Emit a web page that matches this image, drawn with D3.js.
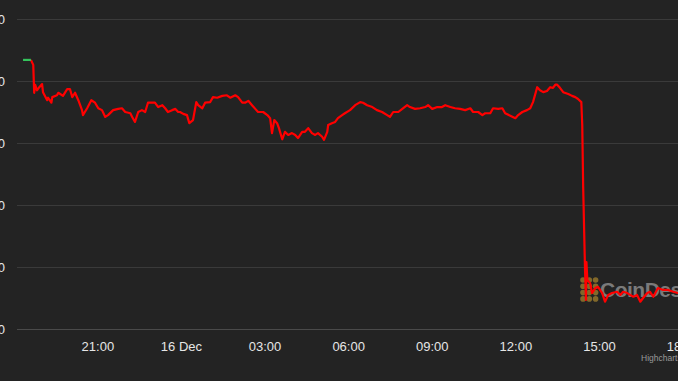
<!DOCTYPE html>
<html>
<head>
<meta charset="utf-8">
<script src="https://cdn.jsdelivr.net/npm/d3@7"></script>
<style>
  html, body { margin: 0; padding: 0; background: #232323; overflow: hidden; }
  svg { display: block; font-family: "Liberation Sans", Helvetica, Arial, sans-serif; }
</style>
</head>
<body>
<svg id="chart" width="678" height="381"></svg>
<script>
// price series (time, price)
const times = [
  "2022-12-15T18:20","2022-12-15T18:37","2022-12-15T18:42","2022-12-15T18:44","2022-12-15T18:46","2022-12-15T18:50",
  "2022-12-15T18:55","2022-12-15T19:01","2022-12-15T19:03","2022-12-15T19:12","2022-12-15T19:14","2022-12-15T19:21",
  "2022-12-15T19:23","2022-12-15T19:33","2022-12-15T19:36","2022-12-15T19:46","2022-12-15T19:55","2022-12-15T20:01",
  "2022-12-15T20:06","2022-12-15T20:12","2022-12-15T20:19","2022-12-15T20:27","2022-12-15T20:29","2022-12-15T20:38",
  "2022-12-15T20:47","2022-12-15T20:55","2022-12-15T21:02","2022-12-15T21:10","2022-12-15T21:17","2022-12-15T21:23",
  "2022-12-15T21:34","2022-12-15T21:45","2022-12-15T21:53","2022-12-15T22:00","2022-12-15T22:11","2022-12-15T22:15",
  "2022-12-15T22:21","2022-12-15T22:28","2022-12-15T22:36","2022-12-15T22:43","2022-12-15T22:49","2022-12-15T22:58",
  "2022-12-15T23:04","2022-12-15T23:11","2022-12-15T23:20","2022-12-15T23:26","2022-12-15T23:32","2022-12-15T23:41",
  "2022-12-15T23:48","2022-12-15T23:54","2022-12-15T23:58","2022-12-16T00:05","2022-12-16T00:13","2022-12-16T00:18",
  "2022-12-16T00:26","2022-12-16T00:33","2022-12-16T00:37","2022-12-16T00:46","2022-12-16T00:52","2022-12-16T01:03",
  "2022-12-16T01:09","2022-12-16T01:18","2022-12-16T01:29","2022-12-16T01:39","2022-12-16T01:46","2022-12-16T01:57",
  "2022-12-16T02:03","2022-12-16T02:12","2022-12-16T02:18","2022-12-16T02:25","2022-12-16T02:33","2022-12-16T02:40",
  "2022-12-16T02:46","2022-12-16T02:57","2022-12-16T03:06","2022-12-16T03:12","2022-12-16T03:16","2022-12-16T03:21",
  "2022-12-16T03:27","2022-12-16T03:31","2022-12-16T03:38","2022-12-16T03:44","2022-12-16T03:51","2022-12-16T03:59",
  "2022-12-16T04:06","2022-12-16T04:12","2022-12-16T04:21","2022-12-16T04:27","2022-12-16T04:34","2022-12-16T04:42",
  "2022-12-16T04:49","2022-12-16T04:55","2022-12-16T05:04","2022-12-16T05:08","2022-12-16T05:15","2022-12-16T05:17",
  "2022-12-16T05:25","2022-12-16T05:32","2022-12-16T05:38","2022-12-16T05:47","2022-12-16T05:53","2022-12-16T06:04",
  "2022-12-16T06:15","2022-12-16T06:26","2022-12-16T06:32","2022-12-16T06:41","2022-12-16T06:52","2022-12-16T07:02",
  "2022-12-16T07:13","2022-12-16T07:24","2022-12-16T07:30","2022-12-16T07:37","2022-12-16T07:48","2022-12-16T07:58",
  "2022-12-16T08:07","2022-12-16T08:13","2022-12-16T08:24","2022-12-16T08:35","2022-12-16T08:46","2022-12-16T08:52",
  "2022-12-16T09:01","2022-12-16T09:12","2022-12-16T09:22","2022-12-16T09:29","2022-12-16T09:40","2022-12-16T09:50",
  "2022-12-16T10:01","2022-12-16T10:12","2022-12-16T10:23","2022-12-16T10:29","2022-12-16T10:40","2022-12-16T10:49",
  "2022-12-16T10:55","2022-12-16T11:06","2022-12-16T11:12","2022-12-16T11:23","2022-12-16T11:32","2022-12-16T11:38",
  "2022-12-16T11:49","2022-12-16T12:00","2022-12-16T12:06","2022-12-16T12:15","2022-12-16T12:25","2022-12-16T12:32",
  "2022-12-16T12:38","2022-12-16T12:47","2022-12-16T12:53","2022-12-16T13:00","2022-12-16T13:08","2022-12-16T13:15",
  "2022-12-16T13:21","2022-12-16T13:26","2022-12-16T13:30","2022-12-16T13:36","2022-12-16T13:43","2022-12-16T13:54",
  "2022-12-16T14:02","2022-12-16T14:09","2022-12-16T14:15","2022-12-16T14:22","2022-12-16T14:24","2022-12-16T14:26",
  "2022-12-16T14:30","2022-12-16T14:32","2022-12-16T14:33","2022-12-16T14:35","2022-12-16T14:41","2022-12-16T14:45",
  "2022-12-16T14:52","2022-12-16T14:58","2022-12-16T15:07","2022-12-16T15:13","2022-12-16T15:20","2022-12-16T15:28",
  "2022-12-16T15:39","2022-12-16T15:46","2022-12-16T15:52","2022-12-16T16:01","2022-12-16T16:07","2022-12-16T16:14",
  "2022-12-16T16:22","2022-12-16T16:29","2022-12-16T16:35","2022-12-16T16:44","2022-12-16T16:50","2022-12-16T16:57",
  "2022-12-16T17:07","2022-12-16T17:18","2022-12-16T17:29","2022-12-16T17:40","2022-12-16T17:50","2022-12-16T18:03"
];
const prices = [
  0.834,0.834,0.826,0.781,0.794,0.785,
  0.790,0.795,0.782,0.769,0.773,0.765,
  0.774,0.777,0.781,0.776,0.787,0.787,
  0.774,0.781,0.769,0.753,0.745,0.756,
  0.769,0.765,0.756,0.753,0.742,0.745,
  0.753,0.755,0.756,0.750,0.748,0.742,
  0.734,0.750,0.753,0.750,0.765,0.765,
  0.765,0.758,0.761,0.756,0.750,0.753,
  0.755,0.750,0.750,0.747,0.745,0.732,
  0.737,0.766,0.761,0.756,0.765,0.766,
  0.774,0.773,0.776,0.777,0.773,0.777,
  0.774,0.765,0.765,0.768,0.761,0.755,
  0.750,0.750,0.745,0.740,0.716,0.737,
  0.732,0.724,0.706,0.718,0.713,0.716,
  0.713,0.708,0.718,0.718,0.724,0.716,
  0.713,0.716,0.710,0.705,0.718,0.729,
  0.732,0.734,0.740,0.745,0.748,0.753,
  0.761,0.766,0.765,0.761,0.758,0.753,
  0.750,0.745,0.742,0.750,0.750,0.756,
  0.761,0.758,0.755,0.756,0.758,0.761,
  0.755,0.758,0.758,0.761,0.758,0.756,
  0.755,0.753,0.756,0.750,0.750,0.745,
  0.748,0.748,0.756,0.755,0.756,0.748,
  0.744,0.740,0.745,0.750,0.753,0.756,
  0.766,0.790,0.785,0.782,0.784,0.790,
  0.789,0.794,0.794,0.789,0.782,0.779,
  0.776,0.774,0.771,0.766,0.729,0.629,
  0.495,0.447,0.508,0.479,0.474,0.458,
  0.466,0.468,0.458,0.444,0.455,0.458,
  0.460,0.455,0.460,0.458,0.455,0.452,
  0.455,0.444,0.450,0.458,0.460,0.452,
  0.466,0.463,0.463,0.460,0.458,0.458
];
const yTicks = [0.40, 0.50, 0.60, 0.70, 0.80, 0.90];
const xDomain = ["2022-12-15T18:07", "2022-12-16T18:16"];

const parse = d3.timeParse("%Y-%m-%dT%H:%M");
const data = times.map((t, i) => ({ date: parse(t), price: prices[i] }));

const svg = d3.select("#chart");
const plotLeft = 17, plotRight = 690, plotTop = 19, plotBottom = 329;

const x = d3.scaleTime().domain(xDomain.map(parse)).range([plotLeft, plotRight]);
const y = d3.scaleLinear().domain([0.40, 0.90]).range([plotBottom, plotTop]);

// gridlines
svg.append("g")
  .selectAll("line")
  .data(yTicks)
  .join("line")
  .attr("x1", plotLeft).attr("x2", 678)
  .attr("y1", d => Math.round(y(d)) + 0.5)
  .attr("y2", d => Math.round(y(d)) + 0.5)
  .attr("stroke", d => d === yTicks[0] ? "#4a4a4a" : "#3a3a3a")
  .attr("stroke-width", 1);

// y labels (the frame cuts them at the left edge, as in the source)
svg.append("g")
  .selectAll("text")
  .data(yTicks)
  .join("text")
  .attr("x", 5)
  .attr("y", d => y(d) + 5)
  .attr("text-anchor", "end")
  .attr("fill", "#e6e6e6")
  .style("font-size", "13px")
  .text(d3.format(".2f"));

// x axis
const fmt = d => d.getHours() === 0 ? d3.timeFormat("%-d %b")(d) : d3.timeFormat("%H:%M")(d);
const xAxis = svg.append("g")
  .attr("transform", `translate(0,${plotBottom + 10})`)
  .call(d3.axisBottom(x).ticks(d3.timeHour.every(3)).tickSize(0).tickFormat(fmt));
xAxis.select(".domain").remove();
xAxis.selectAll("text")
  .attr("fill", "#e6e6e6")
  .style("font-size", "13px")
  .style("font-family", "Liberation Sans, Helvetica, Arial, sans-serif");

// CoinDesk watermark
const wm = svg.append("g").attr("opacity", 0.8);
const dotCols = [0, 1, 2], dotRows = [0, 1, 2, 3];
dotCols.forEach(c => dotRows.forEach(r => {
  wm.append("circle")
    .attr("cx", 583 + c * 6.3)
    .attr("cy", 280 + r * 6.3)
    .attr("r", 2.8)
    .attr("fill", "#9a7a2c");
}));
wm.append("text")
  .attr("x", 600)
  .attr("y", 297)
  .attr("fill", "#909090")
  .style("font-size", "21px")
  .style("font-weight", "bold")
  .style("letter-spacing", "-0.5px")
  .style("font-family", "Liberation Sans, Arial, sans-serif")
  .text("CoinDesk");

// price line
const line = d3.line().x(d => x(d.date)).y(d => y(d.price));
svg.append("path")
  .datum(data.slice(1))
  .attr("fill", "none")
  .attr("stroke", "#ff0000")
  .attr("stroke-width", 2.2)
  .attr("stroke-linejoin", "round")
  .attr("d", line);
svg.append("path")
  .datum(data.slice(0, 2))
  .attr("fill", "none")
  .attr("stroke", "#34c35c")
  .attr("stroke-width", 2.2)
  .attr("d", line);

// credits
svg.append("text")
  .attr("x", 641)
  .attr("y", 361)
  .attr("fill", "#999")
  .style("font-size", "8.5px")
  .text("Highcharts.com");
</script>
</body>
</html>
